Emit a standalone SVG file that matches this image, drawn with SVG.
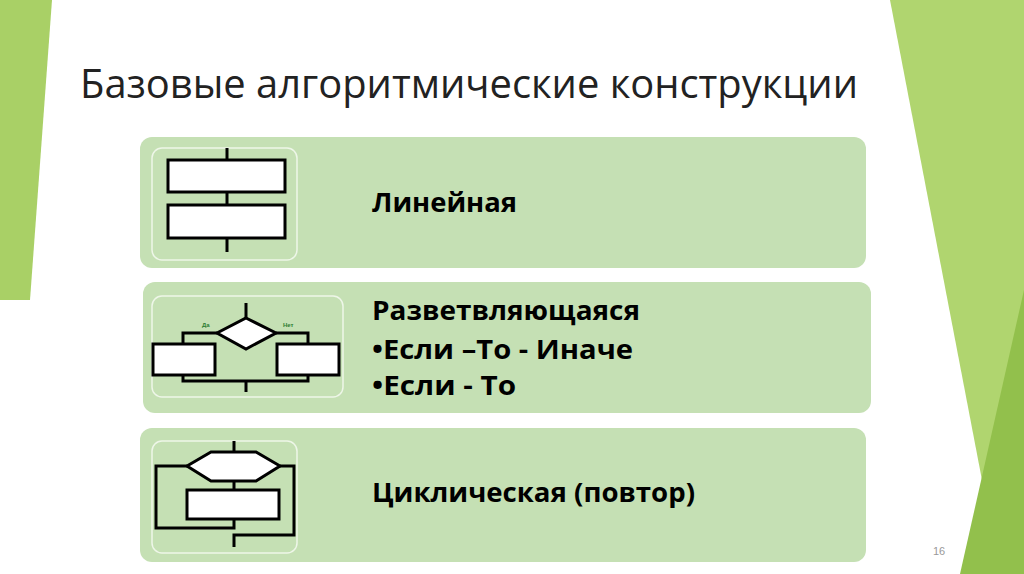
<svg xmlns="http://www.w3.org/2000/svg" width="1024" height="574" viewBox="0 0 1024 574">
<style>
.panel{fill:#c5e0b4}
.frame{fill:none;stroke:#eef6e8;stroke-width:1.5}
.ln{fill:none;stroke:#000;stroke-width:3}
.shp{fill:#fff;stroke:#000;stroke-width:3}
.lbl{font-family:"Open Sans","Liberation Sans",sans-serif;font-weight:bold;font-size:26px;fill:#000}
</style>
<rect width="1024" height="574" fill="#fff"/>
<polygon points="0,0 52,0 30,300 0,300" fill="#a9d066"/>
<polygon points="890,0 1024,0 1024,574 1000,574" fill="#b0d56f"/>
<polygon points="1024,290 960,574 1024,574" fill="#92c04c"/>
<text x="80" y="98" font-family="'Open Sans','Liberation Sans',sans-serif" font-size="40" fill="#222" textLength="778" lengthAdjust="spacingAndGlyphs">Базовые алгоритмические конструкции</text>
<g id="linear">
<rect class="panel" x="140" y="137" width="726" height="131" rx="12"/>
<rect class="frame" x="152" y="148" width="145" height="112" rx="10"/>
<path class="ln" d="M227,148V160M227,192V205M227,238V252"/>
<rect class="shp" x="168" y="160" width="117" height="32"/>
<rect class="shp" x="168" y="205" width="117" height="33"/>
<text class="lbl" x="372" y="212" textLength="145" lengthAdjust="spacingAndGlyphs">Линейная</text>
</g>
<g id="branch">
<rect class="panel" x="143" y="282" width="728" height="131" rx="12"/>
<rect class="frame" x="152" y="296" width="191" height="101" rx="10"/>
<path class="ln" d="M246,303V318M217,333H183V344M276,333H308V344M183,375V381H308V375M246,381V392" stroke-width="2"/>
<polygon class="shp" points="246,318 276,333 246,349 217,333" stroke-width="2"/>
<rect class="shp" x="153" y="344" width="62" height="31" stroke-width="2"/>
<rect class="shp" x="277" y="344" width="62" height="31" stroke-width="2"/>
<text x="202" y="327" font-family="'Liberation Sans',sans-serif" font-size="6" font-weight="bold" fill="#2e7d32">Да</text>
<text x="283" y="327" font-family="'Liberation Sans',sans-serif" font-size="6" font-weight="bold" fill="#2e7d32">Нет</text>
<text class="lbl" x="372" y="320" textLength="268" lengthAdjust="spacingAndGlyphs">Разветвляющаяся</text>
<text class="lbl" x="372" y="359" textLength="261" lengthAdjust="spacingAndGlyphs">•Если –То - Иначе</text>
<text class="lbl" x="372" y="395" textLength="144" lengthAdjust="spacingAndGlyphs">•Если - То</text>
</g>
<g id="loop">
<rect class="panel" x="140" y="428" width="726" height="134" rx="12"/>
<rect class="frame" x="152" y="441" width="145" height="112" rx="10"/>
<path class="ln" d="M234,441V452M234,481V490M187,466H156V528H234V519M280,466H294V535H234V547"/>
<polygon class="shp" points="187,466 211,452 256,452 280,466 256,481 211,481"/>
<rect class="shp" x="187" y="490" width="92" height="29"/>
<text class="lbl" x="372" y="502" textLength="323" lengthAdjust="spacingAndGlyphs">Циклическая (повтор)</text>
</g>
<text x="933" y="555" font-family="'Liberation Sans',sans-serif" font-size="11" fill="#999">16</text>
</svg>
